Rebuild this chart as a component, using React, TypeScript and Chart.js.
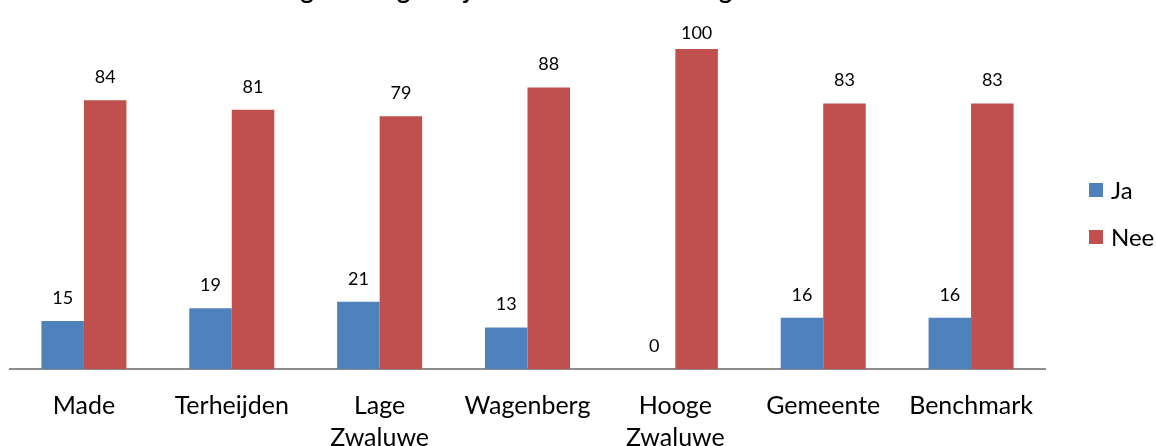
import React, { useEffect, useRef } from "react";
import { Chart, registerables } from "chart.js";

Chart.register(...registerables);

const titleText = "Mantelzorg ontvangen bij het huishouden of zorg";
const categories: (string | string[])[] = [
  "Made",
  "Terheijden",
  ["Lage", "Zwaluwe"],
  "Wagenberg",
  ["Hooge", "Zwaluwe"],
  "Gemeente",
  "Benchmark",
];
const seriesNames = ["Ja", "Nee"];
const jaValues = [15, 19, 21, 13, 0, 16, 16];
const neeValues = [84, 81, 79, 88, 100, 83, 83];
const seriesColors = ["#4F81BD", "#C0504D"];

const FONT = "Lato, 'Open Sans', sans-serif";

const titlePlugin = {
  id: "clippedTitle",
  afterDraw(chart: any) {
    const ctx = chart.ctx;
    ctx.save();
    ctx.font = `bold 25px ${FONT}`;
    ctx.fillStyle = "#000";
    ctx.textAlign = "left";
    ctx.textBaseline = "alphabetic";
    ctx.fillText(titleText, 187, -1);
    ctx.restore();
  },
};

const valueLabelPlugin = {
  id: "valueLabels",
  afterDatasetsDraw(chart: any) {
    const ctx = chart.ctx;
    const top = chart.chartArea.top;
    ctx.save();
    ctx.font = `18px ${FONT}`;
    ctx.fillStyle = "#000";
    ctx.textAlign = "center";
    ctx.textBaseline = "middle";
    chart.data.datasets.forEach((ds: any, di: number) => {
      const meta = chart.getDatasetMeta(di);
      meta.data.forEach((el: any, i: number) => {
        const y = Math.max(el.y - 23, top - 16);
        ctx.fillText(String(ds.data[i]), el.x, y);
      });
    });
    ctx.restore();
  },
};

const legendPlugin = {
  id: "sideLegend",
  afterDraw(chart: any) {
    const ctx = chart.ctx;
    const area = chart.chartArea;
    const mid = (area.top + area.bottom) / 2 + 4.5;
    const step = 47;
    const n = chart.data.datasets.length;
    ctx.save();
    ctx.font = `24px ${FONT}`;
    ctx.textAlign = "left";
    ctx.textBaseline = "middle";
    chart.data.datasets.forEach((ds: any, i: number) => {
      const cy = mid + (i - (n - 1) / 2) * step;
      const bx = area.right + 44;
      ctx.fillStyle = ds.backgroundColor;
      ctx.fillRect(bx, cy - 7, 14, 14);
      ctx.fillStyle = "#000";
      ctx.fillText(ds.label, bx + 22, cy + 1);
    });
    ctx.restore();
  },
};

export default function App() {
  const ref = useRef<HTMLCanvasElement | null>(null);
  useEffect(() => {
    if (!ref.current) return;
    const chart = new Chart(ref.current, {
      type: "bar",
      data: {
        labels: categories,
        datasets: [
          { label: seriesNames[0], data: jaValues, backgroundColor: seriesColors[0] },
          { label: seriesNames[1], data: neeValues, backgroundColor: seriesColors[1] },
        ],
      },
      options: {
        responsive: false,
        animation: false,
        devicePixelRatio: 1,
        layout: { padding: { top: 49, left: 10, right: 111, bottom: 0 } },
        datasets: { bar: { categoryPercentage: 0.575, barPercentage: 1 } },
        scales: {
          y: { display: false, min: 0, max: 100 },
          x: {
            grid: { display: false, drawTicks: false },
            border: { display: true, color: "#8C8C8C", width: 2 },
            ticks: {
              color: "#000",
              padding: 21,
              maxRotation: 0,
              autoSkip: false,
              font: { family: FONT, size: 25, lineHeight: 1.28 },
            },
            afterFit(scale: any) {
              scale.height = 77;
            },
          },
        },
        plugins: {
          title: { display: false },
          tooltip: { enabled: false },
          legend: { display: false },
        },
      } as any,
      plugins: [titlePlugin, valueLabelPlugin, legendPlugin],
    });
    return () => chart.destroy();
  }, []);
  return (
    <div style={{ position: "absolute", left: 0, top: 0, width: 1156, height: 446, background: "#fff" }}>
      <canvas ref={ref} width={1156} height={446} />
    </div>
  );
}
